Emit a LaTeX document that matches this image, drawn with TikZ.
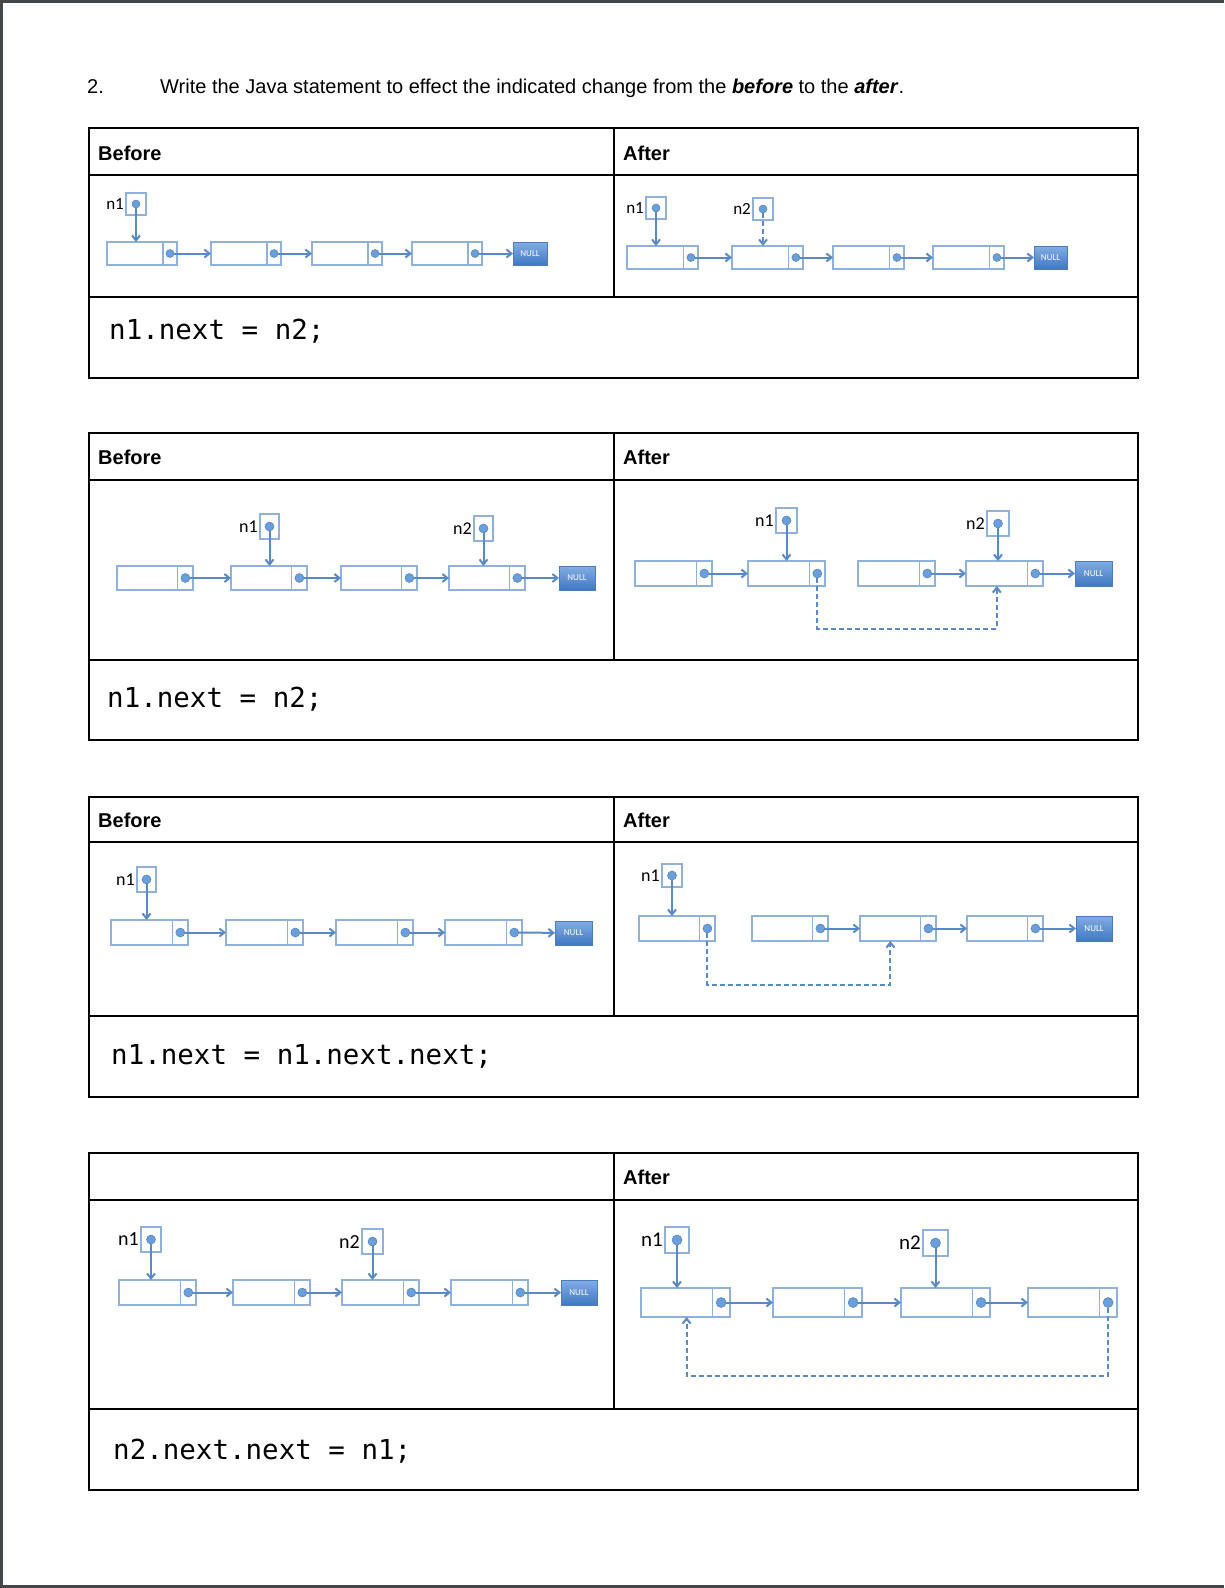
\documentclass[tikz,border=0pt]{standalone}
\usepackage{fontspec}
\setmainfont{Liberation Sans}
\newfontfamily\labfont{Carlito}
\newfontfamily\codefont{DejaVu Sans Mono}
\usetikzlibrary{positioning, arrows.meta}
\definecolor{cellc}{HTML}{8FB1DC}
\definecolor{linkc}{HTML}{5A8AC6}
\definecolor{dotc}{HTML}{6A9FDB}
\definecolor{dotl}{HTML}{4F81BD}
\definecolor{nullt}{HTML}{82ADE4}
\definecolor{nullb}{HTML}{3F78C2}
\definecolor{nulll}{HTML}{4A7EBB}
\definecolor{framec}{HTML}{43474A}

\begin{document}
\begin{tikzpicture}[x=1pt, y=-1pt,
    databox/.style 2 args={draw=cellc, line width=1.3pt, fill=white, inner sep=0pt, outer sep=0pt, anchor=north west, minimum width=0.8*#1, minimum height=#2},
    nextbox/.style 2 args={draw=cellc, line width=1.3pt, fill=white, inner sep=0pt, outer sep=0pt, anchor=west, minimum width=0.2*#1, minimum height=#2},
    varbox/.style 2 args={draw=cellc, line width=1.3pt, inner sep=0pt, outer sep=0pt, anchor=north west, minimum width=#1, minimum height=#2},
    ptrdot/.style={circle, fill=dotc, draw=dotl, line width=0.5pt, inner sep=0pt, minimum size=#1},
    varname/.style={font=\labfont\fontsize{#1}{#1}\selectfont, inner sep=0pt},
    nullbox/.style 2 args={draw=nulll, line width=0.8pt, top color=nullt, bottom color=nullb, text=white, font=\labfont\fontsize{9}{9}\selectfont, inner sep=0pt, outer sep=0pt, anchor=north west, minimum width=#1, minimum height=#2},
    link/.style={draw=linkc, line width=2pt, -{Straight Barb[length=5pt, width=8pt]}},
    dlink/.style={link, dash pattern=on 5pt off 3pt},
    grid/.style={draw=black, line width=2.2pt},
    frame/.style={draw=framec, line width=3pt},
    headtxt/.style={font=\bfseries\fontsize{20}{24}\selectfont, anchor=west, inner sep=0pt},
    codetxt/.style={font=\codefont\fontsize{27.5}{30}\selectfont, anchor=base west, inner sep=0pt}]
    \useasboundingbox (0,0) rectangle (1224,1588);
    % Page edge
    \draw[frame] (1224,1.5) -- (1.5,1.5) -- (1.5,1586.5) -- (1224,1586.5);
    % Question line
    \node[anchor=base west, font=\fontsize{20}{24}\selectfont, inner sep=0pt] (qnum) at (87,93) {2.};
    \node[anchor=base west, font=\fontsize{20}{24}\selectfont, inner sep=0pt] (qtext) at (160,93)
        {Write the Java statement to effect the indicated change from the \textbf{\textit{before}} to the \textbf{\textit{after}}.};
    % Four tables
    \foreach \t/\h/\d/\b in {128/175/297/378, 433/480/660/740, 797/842/1016/1097, 1153/1200/1409/1490} {
        \draw[grid] (89,\t) rectangle (1138,\b);
        \draw[grid] (89,\h) -- (1138,\h) (89,\d) -- (1138,\d) (614,\t) -- (614,\d);
    }
    % Header labels
    \foreach \n/\y in {1/153, 2/457, 3/820} \node[headtxt] (before\n) at (98,\y) {Before};
    \foreach \n/\y in {1/153, 2/457, 3/820, 4/1177} \node[headtxt] (after\n) at (623,\y) {After};
    % Answers
    \node[codetxt] (code1) at (109,339) {n1.next = n2;};
    \node[codetxt] (code2) at (107,707) {n1.next = n2;};
    \node[codetxt] (code3) at (111,1064) {n1.next = n1.next.next;};
    \node[codetxt] (code4) at (113,1459) {n2.next.next = n1;};

    % Table 1, before
    \foreach \i/\x in {1/107, 2/211, 3/312, 4/412} {
        \node[databox={70}{23}] (oneB\i) at (\x,242) {};
        \node[nextbox={70}{23}] (oneB\i n) at (oneB\i.east) {};
        \node[ptrdot=8] (oneB\i d) at (oneB\i n) {};
    }
    \node[nullbox={34}{23}] (oneBnull) at (513,242) {NULL};
    \node[varbox={20}{22}] (oneBv1) at (126,193) {};
    \node[ptrdot=8] (oneBv1d) at (oneBv1) {};
    \node[varname=17, left=2pt of oneBv1] (oneBl1) {n1};
    \draw[link] (oneBv1d) -- (oneBv1d |- oneB1.north);
    \foreach \i/\j in {1/2, 2/3, 3/4} \draw[link] (oneB\i d) -- (oneB\j);
    \draw[link] (oneB4d) -- (oneBnull);

    % Table 1, after
    \foreach \i/\x in {1/627, 2/732, 3/833, 4/933} {
        \node[databox={71}{23}] (oneA\i) at (\x,246) {};
        \node[nextbox={71}{23}] (oneA\i n) at (oneA\i.east) {};
        \node[ptrdot=8] (oneA\i d) at (oneA\i n) {};
    }
    \node[nullbox={33}{23}] (oneAnull) at (1034,246) {NULL};
    \node[varbox={20}{22}] (oneAv1) at (646,197) {};
    \node[varbox={20}{22}] (oneAv2) at (753,198) {};
    \foreach \v in {1,2} \node[ptrdot=8] (oneAv\v d) at (oneAv\v) {};
    \node[varname=17, left=2pt of oneAv1] (oneAl1) {n1};
    \node[varname=17, left=2pt of oneAv2] (oneAl2) {n2};
    \draw[link] (oneAv1d) -- (oneAv1d |- oneA1.north);
    \draw[dlink] (oneAv2d) -- (oneAv2d |- oneA2.north);
    \foreach \i/\j in {1/2, 2/3, 3/4} \draw[link] (oneA\i d) -- (oneA\j);
    \draw[link] (oneA4d) -- (oneAnull);

    % Table 2, before
    \foreach \i/\x in {1/117, 2/231, 3/341, 4/449} {
        \node[databox={76}{24}] (twoB\i) at (\x,566) {};
        \node[nextbox={76}{24}] (twoB\i n) at (twoB\i.east) {};
        \node[ptrdot=9] (twoB\i d) at (twoB\i n) {};
    }
    \node[nullbox={36}{24}] (twoBnull) at (559,566) {NULL};
    \node[varbox={19}{25}] (twoBv1) at (260,514) {};
    \node[varbox={19}{25}] (twoBv2) at (474,516) {};
    \foreach \v in {1,2} \node[ptrdot=9] (twoBv\v d) at (twoBv\v) {};
    \node[varname=18, left=2pt of twoBv1] (twoBl1) {n1};
    \node[varname=18, left=2pt of twoBv2] (twoBl2) {n2};
    \draw[link] (twoBv1d) -- (twoBv1d |- twoB2.north);
    \draw[link] (twoBv2d) -- (twoBv2d |- twoB4.north);
    \foreach \i/\j in {1/2, 2/3, 3/4} \draw[link] (twoB\i d) -- (twoB\j);
    \draw[link] (twoB4d) -- (twoBnull);

    % Table 2, after
    \foreach \i/\x in {1/635, 2/748, 3/858, 4/966} {
        \node[databox={77}{25}] (twoA\i) at (\x,561) {};
        \node[nextbox={77}{25}] (twoA\i n) at (twoA\i.east) {};
        \node[ptrdot=9] (twoA\i d) at (twoA\i n) {};
    }
    \node[nullbox={37}{25}] (twoAnull) at (1075,561) {NULL};
    \node[varbox={21}{25}] (twoAv1) at (776,508) {};
    \node[varbox={22}{25}] (twoAv2) at (987,511) {};
    \foreach \v in {1,2} \node[ptrdot=9] (twoAv\v d) at (twoAv\v) {};
    \node[varname=18, left=2pt of twoAv1] (twoAl1) {n1};
    \node[varname=18, left=2pt of twoAv2] (twoAl2) {n2};
    \draw[link] (twoAv1d) -- (twoAv1d |- twoA2.north);
    \draw[link] (twoAv2d) -- (twoAv2d |- twoA4.north);
    \draw[link] (twoA1d) -- (twoA2);
    \draw[link] (twoA3d) -- (twoA4);
    \draw[link] (twoA4d) -- (twoAnull);
    \draw[dlink] (twoA2d) -- ++(0,55) -| (twoA4.south);

    % Table 3, before
    \foreach \i/\x in {1/111, 2/226, 3/336, 4/445} {
        \node[databox={77}{25}] (thrB\i) at (\x,920) {};
        \node[nextbox={77}{25}] (thrB\i n) at (thrB\i.east) {};
        \node[ptrdot=9] (thrB\i d) at (thrB\i n) {};
    }
    \node[nullbox={37}{24}] (thrBnull) at (555,921) {NULL};
    \node[varbox={19}{25}] (thrBv1) at (137,867) {};
    \node[ptrdot=9] (thrBv1d) at (thrBv1) {};
    \node[varname=18, left=2pt of thrBv1] (thrBl1) {n1};
    \draw[link] (thrBv1d) -- (thrBv1d |- thrB1.north);
    \foreach \i/\j in {1/2, 2/3, 3/4} \draw[link] (thrB\i d) -- (thrB\j);
    \draw[link] (thrB4d) -- (thrBnull);

    % Table 3, after
    \foreach \i/\x in {1/639, 2/752, 3/860, 4/967} {
        \node[databox={76}{25}] (thrA\i) at (\x,916) {};
        \node[nextbox={76}{25}] (thrA\i n) at (thrA\i.east) {};
        \node[ptrdot=9] (thrA\i d) at (thrA\i n) {};
    }
    \node[nullbox={36}{25}] (thrAnull) at (1076,916) {NULL};
    \node[varbox={20}{23}] (thrAv1) at (662,864) {};
    \node[ptrdot=9] (thrAv1d) at (thrAv1) {};
    \node[varname=18, left=2pt of thrAv1] (thrAl1) {n1};
    \draw[link] (thrAv1d) -- (thrAv1d |- thrA1.north);
    \foreach \i/\j in {2/3, 3/4} \draw[link] (thrA\i d) -- (thrA\j);
    \draw[link] (thrA4d) -- (thrAnull);
    \draw[dlink] (thrA1d) -- ++(0,56) -| (thrA3.south);

    % Table 4, before
    \foreach \i/\x in {1/119, 2/233, 3/342, 4/451} {
        \node[databox={77}{25}] (forB\i) at (\x,1280) {};
        \node[nextbox={77}{25}] (forB\i n) at (forB\i.east) {};
        \node[ptrdot=9] (forB\i d) at (forB\i n) {};
    }
    \node[nullbox={36}{25}] (forBnull) at (561,1280) {NULL};
    \node[varbox={20}{25}] (forBv1) at (141,1227) {};
    \node[varbox={21}{25}] (forBv2) at (362,1229) {};
    \foreach \v in {1,2} \node[ptrdot=9] (forBv\v d) at (forBv\v) {};
    \node[varname=20, left=2pt of forBv1] (forBl1) {n1};
    \node[varname=20, left=2pt of forBv2] (forBl2) {n2};
    \draw[link] (forBv1d) -- (forBv1d |- forB1.north);
    \draw[link] (forBv2d) -- (forBv2d |- forB3.north);
    \foreach \i/\j in {1/2, 2/3, 3/4} \draw[link] (forB\i d) -- (forB\j);
    \draw[link] (forB4d) -- (forBnull);

    % Table 4, after
    \foreach \i/\x in {1/641, 2/773, 3/901, 4/1028} {
        \node[databox={89}{29}] (forA\i) at (\x,1288) {};
        \node[nextbox={89}{29}] (forA\i n) at (forA\i.east) {};
        \node[ptrdot=10] (forA\i d) at (forA\i n) {};
    }
    \node[varbox={24}{26}] (forAv1) at (665,1227) {};
    \node[varbox={25}{26}] (forAv2) at (923,1230) {};
    \foreach \v in {1,2} \node[ptrdot=10] (forAv\v d) at (forAv\v) {};
    \node[varname=21, left=2pt of forAv1] (forAl1) {n1};
    \node[varname=21, left=2pt of forAv2] (forAl2) {n2};
    \draw[link] (forAv1d) -- (forAv1d |- forA1.north);
    \draw[link] (forAv2d) -- (forAv2d |- forA3.north);
    \foreach \i/\j in {1/2, 2/3, 3/4} \draw[link] (forA\i d) -- (forA\j);
    \draw[dlink] (forA4d) -- ++(0,73) -| ([xshift=10pt]forA1.south);
\end{tikzpicture}
\end{document}
